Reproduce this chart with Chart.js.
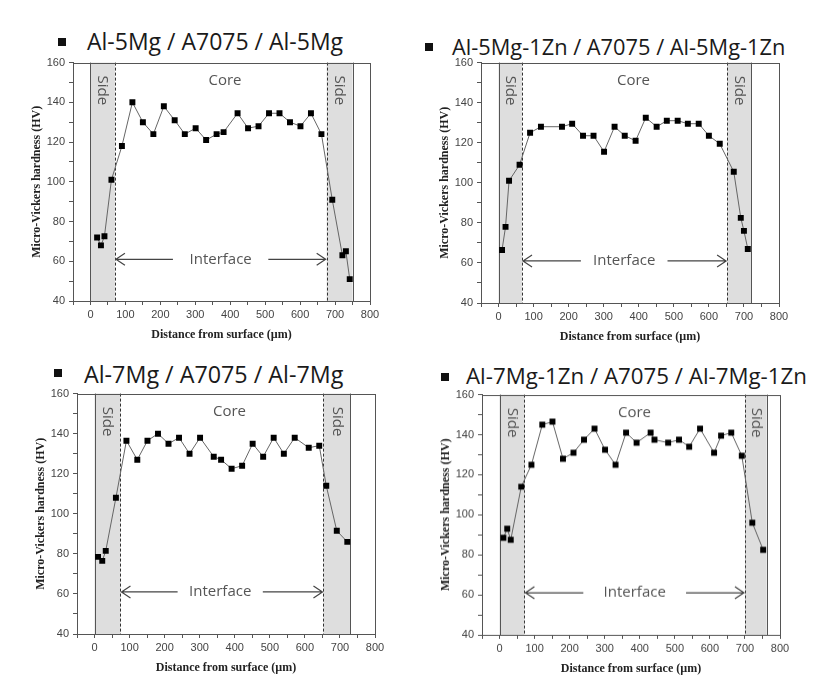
<!DOCTYPE html>
<html>
<head>
<meta charset="utf-8">
<script src="https://cdn.jsdelivr.net/npm/chart.js@4.4.0/dist/chart.umd.min.js"></script>
<style>
  body { margin: 0; background: #fff; width: 840px; height: 682px; position: relative; overflow: hidden; }
  canvas { position: absolute; }
  .ttl { position: absolute; font-family: "Open Sans", sans-serif; font-size: 23px; line-height: 23px; color: #1a1a1a; white-space: nowrap; }
  .sq { position: absolute; width: 8px; height: 8px; background: #111; }
</style>
</head>
<body>
<div class="sq" style="left:58px;top:38px"></div>
<div class="ttl" style="left:87px;top:30px">Al-5Mg / A7075 / Al-5Mg</div>
<div class="sq" style="left:425px;top:43px"></div>
<div class="ttl" style="left:452px;top:35px;font-size:21.8px">Al-5Mg-1Zn / A7075 / Al-5Mg-1Zn</div>
<div class="sq" style="left:54px;top:369px"></div>
<div class="ttl" style="left:84px;top:363px;font-size:23.3px">Al-7Mg / A7075 / Al-7Mg</div>
<div class="sq" style="left:441px;top:373px"></div>
<div class="ttl" style="left:466px;top:364px;font-size:22.3px">Al-7Mg-1Zn / A7075 / Al-7Mg-1Zn</div>

<canvas id="c1"></canvas>
<canvas id="c2"></canvas>
<canvas id="c3"></canvas>
<canvas id="c4"></canvas>

<script>
// distance from surface (um) and hardness (HV)
const x5Mg = [19, 30, 40, 60, 90, 120, 150, 180, 210, 241, 270, 301, 331, 361, 381, 421, 451, 481, 511, 541, 571, 601, 631, 661, 692, 721, 731, 742];
const hv5Mg = [72, 68, 72.6, 101, 118, 140, 130, 124, 138, 131, 124, 127, 121, 124, 125, 134.5, 127, 128, 134.5, 134.5, 130, 128, 134.5, 124, 91, 63, 65, 51];

const x5Mg1Zn = [10, 20, 30, 60, 90, 121, 181, 210, 241, 271, 301, 331, 360, 391, 420, 451, 480, 511, 540, 571, 600, 631, 671, 691, 700, 711];
const hv5Mg1Zn = [66.5, 78, 101, 109, 125, 128, 128, 129.5, 123.5, 123.5, 115.5, 128, 123.5, 121, 132.5, 128, 131, 131, 129.5, 129.5, 123.5, 119.5, 105.5, 82.5, 76, 67];

const x7Mg = [10, 22, 32, 61, 91, 122, 151, 181, 211, 241, 271, 301, 340, 361, 391, 421, 451, 481, 511, 540, 571, 611, 641, 661, 691, 721];
const hv7Mg = [78.5, 76.5, 81.5, 108, 136.5, 127, 136.5, 140, 135, 138, 130, 138, 128.5, 127, 122.5, 124, 135, 128.5, 138, 130, 138, 133, 134, 114, 91.5, 86];

const x7Mg1Zn = [11, 22, 32, 62, 91, 122, 151, 181, 211, 241, 271, 301, 331, 361, 391, 431, 442, 481, 512, 541, 572, 612, 632, 661, 691, 721, 752];
const hv7Mg1Zn = [88.5, 93, 87.5, 114, 125, 145, 146.5, 128, 131, 137.5, 143, 132.5, 125, 141, 136, 141, 137.5, 136, 137.5, 134, 143, 131, 139.5, 141, 129.5, 96, 82.5];

// side zones: [left dashed edge, right dashed edge, right solid edge]
const side5Mg = [70, 676, 750];
const side5Mg1Zn = [67, 652, 720];
const side7Mg = [74, 653, 730];
const side7Mg1Zn = [71, 700, 762];

// gap in the "Interface" arrow, in um
const gap5Mg = [236, 509];
const gap5Mg1Zn = [235, 482];
const gap7Mg = [237, 480];
const gap7Mg1Zn = [239, 532];

const xTicks = [-50, 800];
const yTicks = [40, 160];

// shaded side zones, labels and arrows
const zones = {
  id: 'zones',
  beforeDatasetsDraw(chart, args, o) {
    const { ctx, chartArea: a, scales: { x, y } } = chart;
    const px = v => x.getPixelForValue(v);
    const s = o.side;
    ctx.save();
    ctx.fillStyle = '#dedede';
    ctx.fillRect(px(0), a.top, px(s[0]) - px(0), a.height);
    ctx.fillRect(px(s[1]), a.top, px(s[2]) - px(s[1]), a.height);

    const vline = (xx) => {
      ctx.beginPath();
      ctx.moveTo(Math.round(xx) + 0.5, a.top);
      ctx.lineTo(Math.round(xx) + 0.5, a.bottom);
      ctx.stroke();
    };
    ctx.strokeStyle = '#555';
    ctx.lineWidth = 1;
    vline(px(0));
    vline(px(s[2]));
    ctx.strokeStyle = '#333';
    ctx.setLineDash([3, 2]);
    vline(px(s[0]));
    vline(px(s[1]));
    ctx.setLineDash([]);

    ctx.fillStyle = '#555';
    ctx.font = '15px "Open Sans"';
    ctx.textAlign = 'center';
    ctx.textBaseline = 'middle';
    ctx.fillText('Core', px(385), y.getPixelForValue(151));

    const sy = y.getPixelForValue(146);
    [[0, s[0]], [s[1], s[2]]].forEach(([l, r]) => {
      ctx.save();
      ctx.translate((px(l) + px(r)) / 2, sy);
      ctx.rotate(Math.PI / 2);
      ctx.fillText('Side', 0, 0);
      ctx.restore();
    });

    const iy = y.getPixelForValue(61);
    const g = o.gap;
    ctx.fillText('Interface', (px(g[0]) + px(g[1])) / 2, iy);
    ctx.strokeStyle = '#444';
    ctx.lineWidth = 1.2;
    const x1 = px(s[0]) + 1, x2 = px(s[1]) - 1;
    ctx.beginPath();
    ctx.moveTo(x1, iy); ctx.lineTo(px(g[0]), iy);
    ctx.moveTo(x1 + 9, iy - 6); ctx.lineTo(x1, iy); ctx.lineTo(x1 + 9, iy + 6);
    ctx.moveTo(px(g[1]), iy); ctx.lineTo(x2, iy);
    ctx.moveTo(x2 - 9, iy - 6); ctx.lineTo(x2, iy); ctx.lineTo(x2 - 9, iy + 6);
    ctx.stroke();
    ctx.restore();
  },
  afterDraw(chart) {
    const { ctx, chartArea: a } = chart;
    ctx.save();
    ctx.strokeStyle = '#555';
    ctx.lineWidth = 1;
    ctx.strokeRect(Math.round(a.left) + 0.5, Math.round(a.top) + 0.5, Math.round(a.width), Math.round(a.height));
    ctx.restore();
  }
};

const AXW = 72, AXH = 46, PT = 10, PR = 20;

function panel(id, area, xs, hv, side, gap) {
  const cv = document.getElementById(id);
  const left = area[0] - AXW, top = area[2] - PT;
  const w = area[1] - left + PR, h = area[3] - top + AXH;
  cv.style.left = left + 'px';
  cv.style.top = top + 'px';
  cv.style.width = w + 'px';
  cv.style.height = h + 'px';
  cv.width = w;
  cv.height = h;

  const tickFont = { family: '"Liberation Sans", Arial', size: 11 };
  const titleFont = { family: '"Liberation Serif", "Times New Roman"', size: 12, weight: 'bold' };

  new Chart(cv, {
    type: 'scatter',
    data: {
      datasets: [{
        data: xs.map((v, i) => ({ x: v, y: hv[i] })),
        showLine: true,
        borderColor: '#666',
        borderWidth: 1,
        pointStyle: 'rect',
        pointRadius: 4.2,
        pointBackgroundColor: '#000',
        pointBorderColor: '#000',
        pointBorderWidth: 0
      }]
    },
    options: {
      responsive: false,
      animation: false,
      layout: { padding: { top: PT, right: PR, left: 0, bottom: 0 } },
      plugins: {
        legend: { display: false },
        tooltip: { enabled: false },
        zones: { side: side, gap: gap }
      },
      scales: {
        x: {
          type: 'linear',
          min: xTicks[0],
          max: xTicks[1],
          afterFit: s => { s.height = AXH; },
          ticks: {
            stepSize: 50,
            autoSkip: false,
            maxRotation: 0,
            padding: 3,
            color: '#444',
            font: tickFont,
            callback: v => (v % 100 === 0 ? v : '')
          },
          grid: { drawOnChartArea: false, tickLength: 4, color: '#555' },
          border: { color: '#555' },
          title: {
            display: true,
            text: 'Distance from surface (\u00b5m)',
            color: '#222',
            font: titleFont,
            padding: { top: 0, bottom: 5 }
          }
        },
        y: {
          min: yTicks[0],
          max: yTicks[1],
          afterFit: s => { s.width = AXW; },
          ticks: {
            stepSize: 10,
            autoSkip: false,
            padding: 4,
            color: '#444',
            font: tickFont,
            callback: v => (v % 20 === 0 ? v : '')
          },
          grid: { drawOnChartArea: false, tickLength: 4, color: '#555' },
          border: { color: '#555' },
          title: {
            display: true,
            text: 'Micro-Vickers hardness (HV)',
            color: '#222',
            font: titleFont,
            padding: { top: 29, bottom: 0 }
          }
        }
      }
    },
    plugins: [zones]
  });
}

// chart areas: [left, right, top, bottom] in page pixels
panel('c1', [72.5, 370, 62, 301], x5Mg, hv5Mg, side5Mg, gap5Mg);
panel('c2', [481, 779, 62, 303], x5Mg1Zn, hv5Mg1Zn, side5Mg1Zn, gap5Mg1Zn);
panel('c3', [76.5, 375, 393, 634], x7Mg, hv7Mg, side7Mg, gap7Mg);
panel('c4', [481.5, 780, 394, 634.5], x7Mg1Zn, hv7Mg1Zn, side7Mg1Zn, gap7Mg1Zn);
</script>
</body>
</html>
